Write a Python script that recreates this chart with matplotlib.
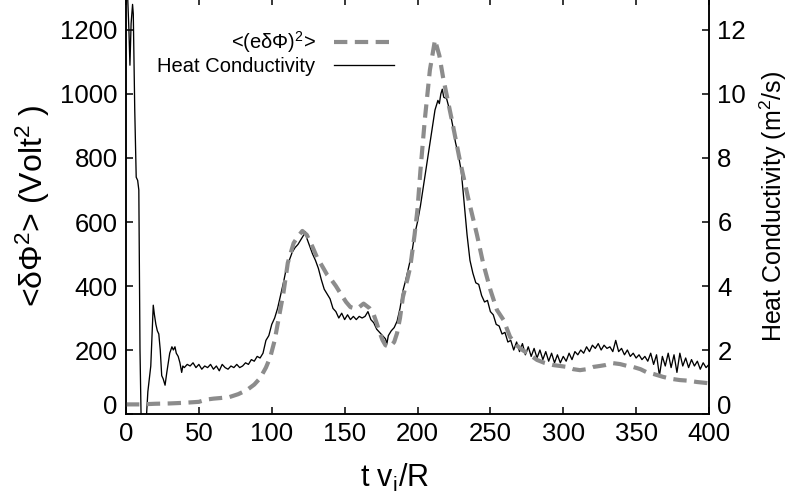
import matplotlib
matplotlib.use('Agg')
import matplotlib.pyplot as plt

plt.rcParams['font.family'] = ['Liberation Sans', 'DejaVu Sans']
plt.rcParams['mathtext.fontset'] = 'custom'
plt.rcParams['mathtext.rm'] = 'Liberation Sans'
plt.rcParams['mathtext.it'] = 'Liberation Sans:italic'

# <(e dPhi)^2>  (Volt^2), left axis
phi_t = [0, 10, 20, 30, 40, 50, 55, 60, 65, 71, 77, 83, 88, 92, 96, 99, 102, 104,
         108, 111, 115, 118, 121, 124, 128, 131, 135, 138, 141, 144, 147, 151, 154,
         157, 160, 163, 167, 170, 172, 174, 176, 178, 181, 184, 186, 188, 190, 193,
         195, 198, 200, 202, 205, 208.5, 212, 215, 217.5, 221, 224, 229, 234.6, 240.8,
         245, 250, 254.5, 259, 263.5, 268, 272, 277, 282, 287, 293, 298, 302.6, 307,
         311.5, 316, 320.5, 325, 329, 334, 339, 344, 348, 353, 357, 362, 368.5, 374,
         380, 386, 391.7, 396, 400]
phi_v = [30, 30, 32, 33, 35, 38, 45, 48, 50, 53, 62, 75, 92, 112, 145, 178, 230, 280,
         378, 472, 534, 555, 572, 560, 522, 490, 459, 435, 419, 400, 378, 350, 334,
         330, 334, 345, 331, 310, 284, 255, 231, 215, 209, 225, 253, 300, 366, 420,
         459, 560, 640, 760, 919, 1075, 1169, 1120, 1053, 975, 909, 794, 678, 560,
         472, 388, 325, 294, 241, 215, 200, 185, 169, 160, 153, 150, 147, 140,
         137, 140, 147, 150, 153, 159, 156, 150, 147, 140, 131, 125, 116, 110,
         106, 104, 100, 98, 96]

# heat conductivity (m^2/s), right axis
kap_t = [0, 1, 2, 2.7, 3.5, 4.5, 5, 6, 7, 8, 8.8, 9.6, 10.5, 12, 13.5, 14.4, 15, 16,
         17, 18, 18.7, 19.5, 20.5, 21.5, 22.5, 23.5, 24.5, 25.5, 26.8, 28, 29, 30,
         31.5, 32.5, 33.6, 34.5, 35.8, 37, 38.2, 39,
         40, 42, 44, 46, 48, 50, 52, 54, 56, 58, 60, 62, 64, 66, 68, 70, 72, 74, 76,
         78, 80, 82, 84, 86, 88, 90, 92, 94, 96, 98, 100, 102, 104, 106, 108, 110,
         112, 114, 116, 118, 120, 122, 123, 124, 126, 128, 130, 132, 134, 136, 138,
         140, 142, 144, 146, 148, 150, 152, 154, 156, 158, 160, 162, 164, 166, 168,
         170, 172, 174, 176, 178, 179, 180, 182, 184, 186, 188, 190, 192, 194, 196,
         198, 200, 202, 204, 206, 208, 210, 212, 214, 215, 216, 217, 218, 220, 222,
         224, 226, 228, 230, 232, 234, 236, 238, 240, 242, 244, 246, 248, 250, 252,
         254, 256, 258, 260, 262, 264, 266, 268, 270, 272, 274, 276, 278, 280, 282,
         284, 286, 288, 290, 292, 294, 296, 298, 300, 302, 304, 306, 308, 310, 312,
         314, 316, 318, 320, 322, 324, 326, 328, 330, 332, 334, 336, 338, 340, 342,
         344, 346, 348, 350, 352, 354, 356, 358, 360, 362, 364, 366, 368, 370, 372,
         374, 376, 378, 380, 382, 384, 386, 388, 390, 392, 394, 396, 398, 400]
kap_v = [14, 13.2, 12, 10.9, 12.2, 12.8, 12.5, 9.5, 7.4, 7.3, 7.0, 2.0, -0.5, -0.5,
         -0.5, 0.2, 0.7, 1.1, 1.5, 2.6, 3.4, 3.1, 2.8, 2.6, 2.5, 2.0, 1.2, 1.1, 0.9,
         1.3, 1.6, 1.9, 2.1, 2.0, 2.1, 1.9, 1.8, 1.6, 1.3, 1.5,
         1.45, 1.55, 1.5, 1.6, 1.45, 1.55, 1.4, 1.5, 1.45, 1.55, 1.4, 1.5, 1.35, 1.55,
         1.45, 1.4, 1.5, 1.45, 1.55, 1.45, 1.5, 1.6, 1.55, 1.7, 1.65, 1.8, 1.75, 1.9,
         2.3, 2.45, 2.8, 3.0, 3.3, 3.7, 4.1, 4.55, 4.8, 5.05, 5.2, 5.3, 5.45, 5.6,
         5.7, 5.5, 5.25, 5.0, 4.8, 4.55, 4.2, 3.9, 3.75, 3.6, 3.3, 3.2, 3.0, 3.15,
         2.95, 3.1, 2.95, 3.05, 2.95, 3.05, 3.0, 3.05, 3.2, 2.95, 2.85, 2.65, 2.55,
         2.45, 2.35, 2.2, 2.45, 2.6, 2.7, 2.9, 3.3, 3.85, 4.2, 4.6, 5.0, 5.6, 6.0,
         6.5, 7.1, 7.7, 8.3, 8.9, 9.5, 9.8, 9.7, 10.0, 10.15, 9.9, 9.85, 9.5, 9.05,
         8.5, 8.1, 7.6, 6.6, 5.6, 4.8, 4.4, 4.1, 4.05, 3.7, 3.5, 3.55, 3.2, 3.1,
         2.8, 2.75, 2.5, 2.55, 2.25, 2.3, 2.0, 2.25, 1.95, 2.2, 1.85, 2.1, 1.8, 2.05,
         1.75, 2.0, 1.7, 1.95, 1.65, 1.9, 1.6, 1.85, 1.6, 1.8, 1.65, 1.9, 1.7, 1.95,
         1.85, 2.0, 1.9, 2.1, 1.95, 2.15, 2.05, 2.2, 2.0, 2.15, 2.05, 2.1, 1.95, 2.3,
         1.95, 2.05, 1.85, 2.0, 1.8, 1.9, 1.75, 1.85, 1.7, 1.8, 1.65, 1.9, 1.55,
         1.85, 1.2, 1.8, 1.5, 1.9, 1.45, 1.85, 1.3, 1.9, 1.5, 1.75, 1.45, 1.7, 1.5,
         1.65, 1.4, 1.6, 1.45, 1.55]

fig = plt.figure(figsize=(7.96, 4.96), dpi=100)
ax = fig.add_axes([126/796, 82/496, 583/796, 416/496])
ax2 = ax.twinx()
ax.set_zorder(ax2.get_zorder() + 1)
ax.patch.set_visible(False)

gray, = ax.plot(phi_t, phi_v, color='#8c8c8c', lw=3, dashes=(3.2, 1.8))
blk, = ax2.plot(kap_t, kap_v, color='black', lw=0.95)

ax.set_xlim(0, 400)
ax.set_ylim(0, 1300)
ax2.set_ylim(0, 13)
ax.set_xticks(range(0, 401, 50))
ax.set_yticks(range(0, 1201, 200))
ax2.set_yticks(range(0, 13, 2))

for a in (ax, ax2):
    for s in a.spines.values():
        s.set_linewidth(1.1)
ax.tick_params(direction='in', length=5, width=1.1, labelsize=18.5, top=True, pad=6)
ax2.tick_params(direction='in', length=5, width=1.1, labelsize=18.5, pad=6)

# the zero labels sit on the baseline, like in the original
ax.yaxis.get_major_ticks()[0].label1.set_verticalalignment('baseline')
ax2.yaxis.get_major_ticks()[0].label2.set_verticalalignment('baseline')

ax.set_xlabel(r't v$_\mathrm{i}$/R', fontsize=22, labelpad=8)
ax.xaxis.set_label_coords(0.46, -0.115)
ax.set_ylabel(r'<δΦ$^2$> (Volt$^2$ )', fontsize=23, labelpad=6)
ax2.set_ylabel(r'Heat Conductivity (m$^2$/s)', fontsize=18, labelpad=8)

leg1 = ax.legend([gray], [r'<(eδΦ)$^2$>'], loc='upper right', markerfirst=False,
                 frameon=False, fontsize=14.5, handlelength=3.0, handletextpad=0.9,
                 borderpad=0, borderaxespad=0, bbox_to_anchor=(394/796, 1 - 29/496),
                 bbox_transform=fig.transFigure)
ax.add_artist(leg1)
ax.legend([blk], ['Heat Conductivity'], loc='upper right', markerfirst=False,
          frameon=False, fontsize=14.5, handlelength=3.0, handletextpad=0.9,
          borderpad=0, borderaxespad=0, bbox_to_anchor=(394/796, 1 - 57/496),
          bbox_transform=fig.transFigure)

fig.savefig('out.png', dpi=100)
